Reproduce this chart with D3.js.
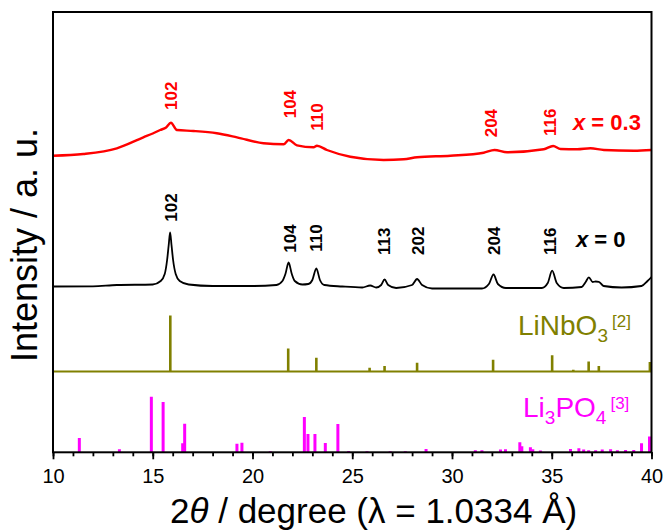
<!DOCTYPE html>
<html><head><meta charset="utf-8">
<script src="https://cdn.jsdelivr.net/npm/d3@7"></script>
<style>body{margin:0;background:#fff}svg{display:block}</style>
</head><body>
<svg id="chart" width="664" height="531"></svg>
<script>
// ---------- data ----------
// x = 0.3 pattern (stacked intensity, a.u.)
const redTheta = [10.0, 11.52, 13.2, 14.53, 15.0, 15.37, 15.67, 15.91, 16.21, 17.04, 18.21, 19.22, 20.55, 21.56, 21.81, 22.23, 23.06, 23.23, 23.73, 24.9, 26.57, 27.58, 28.25, 29.92, 31.59, 32.13, 32.76, 34.6, 35.07, 35.44, 36.28, 36.94, 37.61, 39.12, 40.0];
const redI     = [296.6, 298.3, 304, 315, 318.8, 322.3, 324.8, 329.6, 322.3, 321.3, 319, 315, 309, 308, 312.3, 307, 305, 306.6, 302.3, 295.6, 292.3, 293, 295, 296.6, 299.6, 302.3, 300, 303, 306.3, 303.3, 303, 304, 302.3, 301.6, 302.3];
// x = 0 pattern (stacked intensity, a.u.)
const blackTheta = [10.0, 12.0, 13.2, 15.0, 15.4, 15.6, 15.72, 15.8, 15.87, 15.94, 16.02, 16.15, 16.35, 16.8, 18.0, 20.0, 21.2, 21.5, 21.65, 21.81, 21.97, 22.12, 22.5, 22.8, 23.0, 23.2, 23.38, 23.6, 24.5, 25.5, 25.9, 26.2, 26.45, 26.62, 26.8, 27.2, 28.0, 28.25, 28.5, 29.0, 31.5, 31.85, 32.08, 32.3, 32.7, 34.5, 34.8, 35.02, 35.25, 35.6, 36.5, 36.7, 36.86, 37.05, 37.2, 37.36, 37.6, 38.5, 39.5, 39.8, 40.0];
const blackI     = [165.8, 166.0, 167.3, 167.8, 171.3, 178.3, 192.3, 207.3, 219.8, 207.3, 192.3, 178.3, 171.3, 167.8, 166.3, 166.3, 167.3, 171.3, 178.3, 189.8, 178.3, 171.3, 167.8, 168.3, 172.3, 183.8, 172.3, 167.3, 165.8, 164.8, 166.8, 164.8, 167.3, 172.8, 167.3, 164.3, 167.3, 173.3, 167.3, 163.8, 163.8, 168.3, 177.8, 168.3, 164.3, 164.3, 169.3, 181.6, 169.3, 164.3, 165.3, 170.3, 175.0, 170.3, 170.8, 170.5, 166.3, 164.8, 166.3, 171.3, 175.3];
// LiNbO3 reference [2] (relative intensity)
const lnoTheta = [15.88, 21.79, 23.2, 25.87, 26.62, 28.25, 32.06, 35.02, 36.08, 36.85, 37.36, 39.92];
const lnoI     = [100, 41, 24.5, 6.6, 10, 15.5, 21, 29, 3, 18, 10, 17];
// Li3PO4 reference [3] (relative intensity)
const lpoTheta = [11.32, 13.33, 14.93, 15.52, 16.5, 16.6, 19.22, 19.47, 20.89, 22.6, 22.78, 23.13, 23.65, 24.28, 24.82, 25.74, 26.9, 27.66, 28.7, 31.17, 31.5, 32.43, 32.68, 33.4, 33.5, 33.93, 34.05, 34.43, 35.94, 36.36, 36.6, 36.85, 37.2, 37.53, 37.95, 38.29, 38.7, 39.11, 39.5, 39.9];
const lpoI     = [25.7, 5.4, 100, 90.5, 16.2, 51.4, 15.5, 17.3, 1.8, 63.5, 32.9, 32.9, 16.7, 50.9, 2.3, 1.8, 1.8, 1.8, 5.9, 3.6, 3.6, 4.9, 5.4, 18, 10.8, 9, 5.4, 3.1, 5.9, 7.2, 4.9, 3.6, 3.6, 4.9, 5.4, 3.6, 4.1, 4.1, 16.2, 28.2];
// hkl annotations
const redHkl       = ["102", "104", "110", "204", "116"];
const redHklTheta  = [15.91, 21.85, 23.25, 31.95, 34.92];
const redHklLevel  = [342.3, 334, 321.6, 315, 316.3];
const blackHkl      = ["102", "104", "110", "113", "202", "204", "116"];
const blackHklTheta = [15.9, 21.85, 23.2, 26.57, 28.3, 32.08, 34.93];
const blackHklLevel = [230.6, 199.6, 200.6, 197.3, 197.3, 197.3, 197.3];
const xTicksMajor = [10, 15, 20, 25, 30, 35, 40];
const xTicksMinor = d3.range(10, 41, 1);
const lnoOffset = 80.8, lpoOffset = 0;
const lnoScale = 0.56, lpoScale = 0.556;

// ---------- layout ----------
const svg = d3.select("#chart");
const L = 53, R = 651.5, T = 12, B = 452.3;
const x = d3.scaleLinear().domain([10, 40]).range([L, R]);
const y = d3.scaleLinear().domain([0, B - T]).range([B, T]);
const font = "Liberation Sans, Arial, Helvetica, sans-serif";
const RED = "#ff0000", OLIVE = "#808000", MAG = "#ff00ff";

svg.append("defs").append("clipPath").attr("id", "clip")
  .append("rect").attr("x", L).attr("y", T).attr("width", R - L).attr("height", B - T);
const g = svg.append("g").attr("clip-path", "url(#clip)");

const line = d3.line().x(d => x(d[0])).y(d => y(d[1])).curve(d3.curveMonotoneX);
g.append("path").datum(d3.zip(redTheta, redI)).attr("d", line)
  .attr("fill", "none").attr("stroke", RED).attr("stroke-width", 2.4);
g.append("path").datum(d3.zip(blackTheta, blackI)).attr("d", line)
  .attr("fill", "none").attr("stroke", "#000").attr("stroke-width", 1.8);

// LiNbO3 sticks
g.append("line").attr("x1", L).attr("x2", R).attr("y1", y(lnoOffset)).attr("y2", y(lnoOffset))
  .attr("stroke", OLIVE).attr("stroke-width", 2);
g.selectAll(".lno").data(d3.zip(lnoTheta, lnoI)).join("line")
  .attr("x1", d => x(d[0])).attr("x2", d => x(d[0]))
  .attr("y1", y(lnoOffset)).attr("y2", d => y(lnoOffset + d[1] * lnoScale))
  .attr("stroke", OLIVE).attr("stroke-width", 2.6);
// Li3PO4 sticks
g.selectAll(".lpo").data(d3.zip(lpoTheta, lpoI)).join("line")
  .attr("x1", d => x(d[0])).attr("x2", d => x(d[0]))
  .attr("y1", y(lpoOffset)).attr("y2", d => y(lpoOffset + d[1] * lpoScale))
  .attr("stroke", MAG).attr("stroke-width", 3);

// frame
svg.append("rect").attr("x", L).attr("y", T).attr("width", R - L).attr("height", B - T)
  .attr("fill", "none").attr("stroke", "#000").attr("stroke-width", 2);

// x axis
const axMinor = svg.append("g").attr("transform", `translate(0,${B})`)
  .call(d3.axisBottom(x).tickValues(xTicksMinor).tickSize(4).tickFormat(""));
axMinor.select(".domain").remove();
axMinor.selectAll("line").attr("stroke-width", 1.8);
const axMajor = svg.append("g").attr("transform", `translate(0,${B})`)
  .call(d3.axisBottom(x).tickValues(xTicksMajor).tickSize(7).tickPadding(10).tickFormat(d3.format("d")));
axMajor.select(".domain").remove();
axMajor.selectAll("line").attr("stroke-width", 1.8);
axMajor.selectAll("text").attr("font-family", font).attr("font-size", 20).attr("fill", "#000");

// hkl labels
function hkl(labels, thetas, levels, color) {
  svg.selectAll(null).data(labels).join("text")
    .attr("transform", (d, i) => `translate(${x(thetas[i])},${y(levels[i])}) rotate(-90)`)
    .attr("dy", "0.36em").attr("text-anchor", "start")
    .attr("font-family", font).attr("font-weight", "bold").attr("font-size", 17)
    .attr("fill", color).text(d => d);
}
hkl(redHkl, redHklTheta, redHklLevel, RED);
hkl(blackHkl, blackHklTheta, blackHklLevel, "#000");

// sample labels
function sample(xp, yp, val, color) {
  const t = svg.append("text").attr("x", xp).attr("y", yp)
    .attr("font-family", font).attr("font-weight", "bold").attr("font-size", 22).attr("fill", color);
  t.append("tspan").attr("font-style", "italic").text("x");
  t.append("tspan").text(" = " + val);
}
sample(573, 129.5, "0.3", RED);
sample(576, 247, "0", "#000");

// phase labels
function phase(xp, yp, parts, ref, color) {
  const t = svg.append("text").attr("x", xp).attr("y", yp)
    .attr("font-family", font).attr("font-size", 28).attr("fill", color);
  parts.forEach(p => {
    if (p.sub) t.append("tspan").attr("font-size", 19).attr("dy", 7).text(p.t);
    else t.append("tspan").attr("dy", p.back ? -7 : 0).text(p.t);
  });
  t.append("tspan").attr("font-size", 17).attr("dx", 4).attr("dy", -15).text(ref);
}
phase(518, 335, [{t: "LiNbO"}, {t: "3", sub: true}], "[2]", OLIVE);
phase(523, 416.5, [{t: "Li"}, {t: "3", sub: true}, {t: "PO", back: true}, {t: "4", sub: true}], "[3]", MAG);

// axis titles
const xt = svg.append("text").attr("x", 170).attr("y", 523)
  .attr("font-family", font).attr("font-size", 35).attr("fill", "#000");
xt.append("tspan").text("2");
xt.append("tspan").attr("font-style", "italic").text("θ");
xt.append("tspan").text(" / degree (λ = 1.0334 Å)");

svg.append("text").attr("transform", "translate(37,245) rotate(-90)")
  .attr("text-anchor", "middle").attr("font-family", font).attr("font-size", 36)
  .attr("fill", "#000").text("Intensity / a. u.");
</script>
</body></html>
